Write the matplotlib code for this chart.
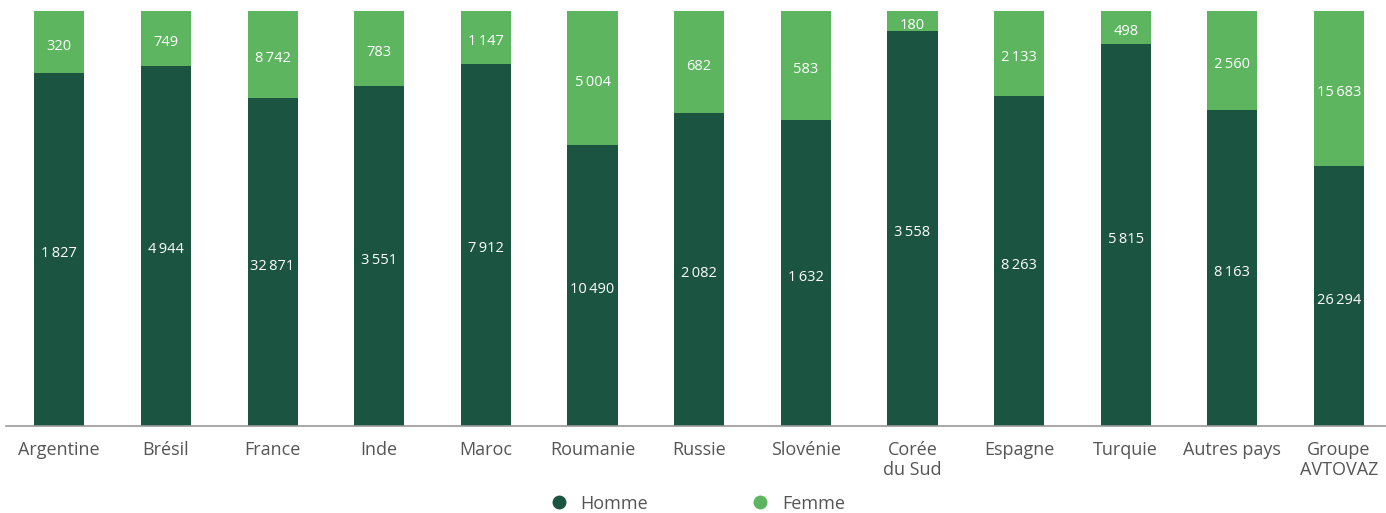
import matplotlib
matplotlib.use("Agg")
import matplotlib.pyplot as plt
from matplotlib.lines import Line2D
import numpy as np

plt.rcParams['font.family'] = ['Open Sans', 'DejaVu Sans']

categories = ["Argentine", "Brésil", "France", "Inde", "Maroc", "Roumanie", "Russie",
              "Slovénie", "Corée\ndu Sud", "Espagne", "Turquie", "Autres pays",
              "Groupe\nAVTOVAZ"]
hommes = [1827, 4944, 32871, 3551, 7912, 10490, 2082, 1632, 3558, 8263, 5815, 8163, 26294]
femmes = [320, 749, 8742, 783, 1147, 5004, 682, 583, 180, 2133, 498, 2560, 15683]

DARK = "#1b5440"
LIGHT = "#5db55f"


def fmt(v):
    return f"{v:,}".replace(",", "\u2009")


h = np.array(hommes, dtype=float)
f = np.array(femmes, dtype=float)
tot = h + f
h_pct = h / tot * 100
f_pct = f / tot * 100

fig = plt.figure(figsize=(13.86, 5.13), dpi=100)
ax = fig.add_axes([0.0043, 0.1696, 0.9957, 0.809])

x = np.arange(len(categories))
w = 0.47
ax.bar(x, h_pct, width=w, color=DARK, zorder=2)
ax.bar(x, f_pct, width=w, bottom=h_pct, color=LIGHT, zorder=2)

for i in range(len(categories)):
    ax.text(x[i], h_pct[i] / 2 - 1, fmt(hommes[i]), ha="center", va="center",
            color="white", fontsize=10.5)
    ax.text(x[i], h_pct[i] + f_pct[i] / 2 - 1, fmt(femmes[i]), ha="center", va="center",
            color="white", fontsize=10.5)

ax.set_xlim(-0.5, 12.44)
ax.set_ylim(0, 100)
ax.set_xticks(x)
ax.set_xticklabels(categories, fontsize=13, color="#555555", linespacing=1.2)
ax.tick_params(axis="x", length=0, pad=10.5)
ax.set_yticks([])
for s in ["top", "right", "left"]:
    ax.spines[s].set_visible(False)
ax.spines["bottom"].set_color("#9a9a9a")
ax.spines["bottom"].set_linewidth(1.2)

handles = [Line2D([], [], marker="o", linestyle="", color=DARK, markersize=9),
           Line2D([], [], marker="o", linestyle="", color=LIGHT, markersize=9)]
fig.legend(handles, ["Homme", "Femme"], loc="center", bbox_to_anchor=(0.5, 0.018),
           ncol=2, frameon=False, fontsize=13, columnspacing=5.2, handletextpad=0.2,
           labelcolor="#555555")

fig.savefig("out.png", dpi=100)
